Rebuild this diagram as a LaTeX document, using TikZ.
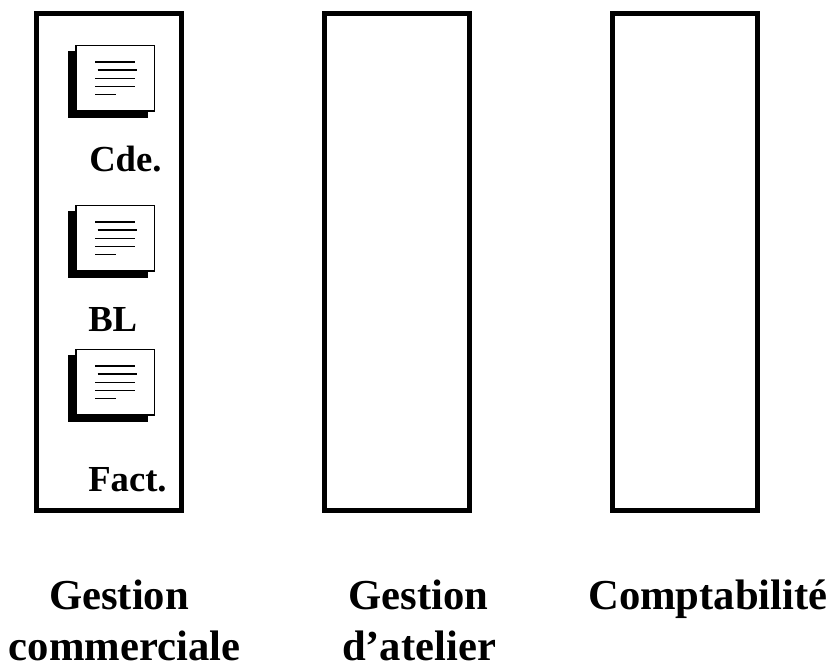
\documentclass[tikz,border=0pt]{standalone}
\usepackage{fontspec}
\setmainfont{Liberation Serif}
\begin{document}
\begin{tikzpicture}[x=0.75pt,y=-0.75pt]
        \tikzstyle{service}=[draw=black,line width=3.75pt,fill=white,inner sep=0pt,anchor=north west,minimum width=108.75pt,minimum height=372.4pt]
        \tikzstyle{sheet}=[draw=black,line width=1.2pt,fill=white]
        \tikzstyle{shadow}=[fill=black]
        \tikzstyle{textline}=[draw=black,line width=1pt]
        \tikzstyle{doclabel}=[font=\bfseries\fontsize{27.5}{30}\selectfont,inner sep=0pt,anchor=base west]
        \tikzstyle{title}=[font=\bfseries\fontsize{32}{50}\selectfont,inner sep=0pt,anchor=base]
       \useasboundingbox (0,0) rectangle (832,663);
       \node [service] (gc) at (34,11.3) {};
       \node [service] (ga) at (322,11.3) {};
       \node [service] (co) at (610,11.3) {};
       \foreach \y in {0,160,304} {
         \begin{scope}[yshift=-0.75pt*\y]
           \fill[shadow] (68,51) rectangle (147.5,118);
           \draw[sheet] (76,45.5) rectangle (154.3,111);
           \draw[textline] (95,62) -- (135,62);
           \draw[textline] (97.5,70) -- (137,70);
           \draw[textline] (95,78.5) -- (135,78.5);
           \draw[textline] (95,86.5) -- (135,86.5);
           \draw[textline] (95,94.5) -- (116,94.5);
         \end{scope}
       }
       \node [doclabel] (cde) at (89,171.5) {Cde.};
       \node [doclabel] (bl) at (88,331.5) {BL};
       \node [doclabel] (fact) at (88,491.5) {Fact.};
       \node [title] (t1) at (119,609) {Gestion};
       \node [title] (t2) at (124.5,660) {commerciale};
       \node [title] (t3) at (418.7,609) {Gestion};
       \node [title] (t4) at (419,660) {d’atelier};
       \node [title] (t5) at (708,609) {Comptabilité};
      \end{tikzpicture}
\end{document}
